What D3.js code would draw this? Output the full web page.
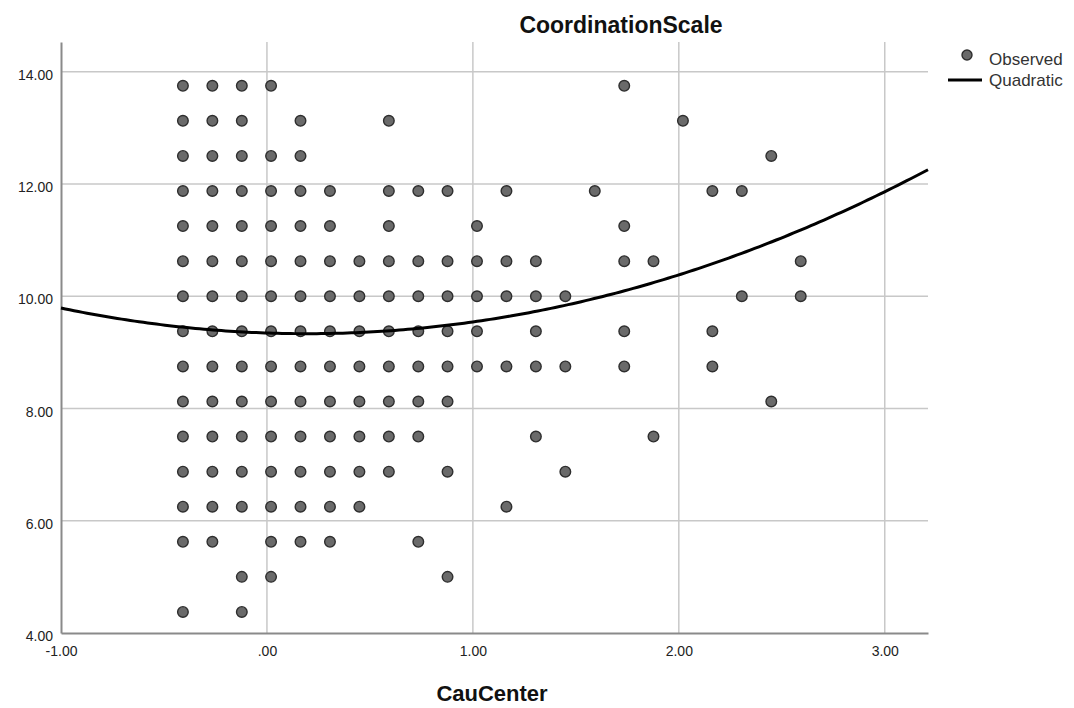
<html>
  <head>
    <script src="https://cdn.jsdelivr.net/npm/d3@7"></script>
    <meta charset="UTF-8">
    <style>
      body { margin: 0; background: #fff; }
      text { font-family: "Liberation Sans", Arial, sans-serif; }
    </style>
  </head>
  <body>
    <svg id="chart" width="1074" height="708"></svg>
    <script>
    // CauCenter values of the columns of points (step 1/7)
    var xLevels = [-0.408, -0.265, -0.122, 0.020, 0.163, 0.306, 0.449, 0.592, 0.735, 0.877,
                   1.020, 1.163, 1.306, 1.449, 1.592, 1.735, 1.877, 2.020, 2.163, 2.306, 2.449, 2.592];
    // CoordinationScale row values
    var yLevels = [13.75, 13.125, 12.5, 11.875, 11.25, 10.625, 10.0, 9.375,
                   8.75, 8.125, 7.5, 6.875, 6.25, 5.625, 5.0, 4.375];
    // for every row, the column indexes that hold a point
    var rowCols = [
      [0, 1, 2, 3, 15],
      [0, 1, 2, 4, 7, 17],
      [0, 1, 2, 3, 4, 20],
      [0, 1, 2, 3, 4, 5, 7, 8, 9, 11, 14, 18, 19],
      [0, 1, 2, 3, 4, 5, 7, 10, 15],
      [0, 1, 2, 3, 4, 5, 6, 7, 8, 9, 10, 11, 12, 15, 16, 21],
      [0, 1, 2, 3, 4, 5, 6, 7, 8, 9, 10, 11, 12, 13, 19, 21],
      [0, 1, 2, 3, 4, 5, 6, 7, 8, 9, 10, 12, 15, 18],
      [0, 1, 2, 3, 4, 5, 6, 7, 8, 9, 10, 11, 12, 13, 15, 18],
      [0, 1, 2, 3, 4, 5, 6, 7, 8, 9, 20],
      [0, 1, 2, 3, 4, 5, 6, 7, 8, 12, 16],
      [0, 1, 2, 3, 4, 5, 6, 7, 9, 13],
      [0, 1, 2, 3, 4, 5, 6, 11],
      [0, 1, 3, 4, 5, 8],
      [2, 3, 9],
      [0, 2]
    ];
    // quadratic fit: y = b0 + b1*x + b2*x^2
    var quadCoef = [9.345, -0.124, 0.321];

    var xTicks = [-1, 0, 1, 2, 3];
    var xTickLabels = ["-1.00", ".00", "1.00", "2.00", "3.00"];
    var yTicks = [4, 6, 8, 10, 12, 14];
    var yTickLabels = ["4.00", "6.00", "8.00", "10.00", "12.00", "14.00"];

    var points = [];
    rowCols.forEach(function(cols, i) {
      cols.forEach(function(c) {
        points.push({x: xLevels[c], y: yLevels[i]});
      });
    });

    var svg = d3.select("#chart");
    var plotL = 61, plotR = 928, plotT = 42, plotB = 633;

    var x = d3.scaleLinear().domain([-1, 3.21]).range([plotL, plotR]);
    var y = d3.scaleLinear().domain([4, 14.53]).range([plotB, plotT]);

    // grid
    svg.append("g").selectAll("line")
      .data(xTicks.filter(function(d) { return d > -1; }))
      .enter().append("line")
      .attr("x1", function(d) { return x(d); }).attr("x2", function(d) { return x(d); })
      .attr("y1", plotT).attr("y2", plotB)
      .attr("stroke", "#c8c8c8").attr("stroke-width", 1.5);

    svg.append("g").selectAll("line")
      .data(yTicks.filter(function(d) { return d > 4; }))
      .enter().append("line")
      .attr("x1", plotL).attr("x2", plotR)
      .attr("y1", function(d) { return y(d); }).attr("y2", function(d) { return y(d); })
      .attr("stroke", "#c8c8c8").attr("stroke-width", 1.5);

    // axes
    var xAxis = d3.axisBottom(x).tickValues(xTicks)
      .tickFormat(function(d, i) { return xTickLabels[i]; }).tickSize(0).tickPadding(13);
    var gx = svg.append("g").attr("transform", "translate(0," + plotB + ")").call(xAxis);
    gx.select(".domain").attr("stroke", "#8a8a8a").attr("stroke-width", 2);
    gx.selectAll("text").attr("font-size", 14).attr("fill", "#222")
      .attr("font-family", "Liberation Sans, Arial, sans-serif");

    var yAxis = d3.axisLeft(y).tickValues(yTicks)
      .tickFormat(function(d, i) { return yTickLabels[i]; }).tickSize(0).tickPadding(8);
    var gy = svg.append("g").attr("transform", "translate(" + plotL + ",0)").call(yAxis);
    gy.select(".domain").attr("stroke", "#8a8a8a").attr("stroke-width", 2);
    gy.selectAll("text").attr("font-size", 14).attr("fill", "#222")
      .attr("font-family", "Liberation Sans, Arial, sans-serif")
      .attr("dy", "0.55em");

    // points
    svg.append("g").selectAll("circle")
      .data(points)
      .enter().append("circle")
      .attr("cx", function(d) { return x(d.x); })
      .attr("cy", function(d) { return y(d.y); })
      .attr("r", 5.3)
      .attr("fill", "#6a6a6a")
      .attr("stroke", "#2e2e2e")
      .attr("stroke-width", 1.4);

    // quadratic curve
    var curveX = d3.range(0, 201).map(function(i) { return -1 + i * (3.21 + 1) / 200; });
    var line = d3.line()
      .x(function(d) { return x(d); })
      .y(function(d) { return y(quadCoef[0] + quadCoef[1] * d + quadCoef[2] * d * d); });
    svg.append("path")
      .datum(curveX)
      .attr("d", line)
      .attr("fill", "none")
      .attr("stroke", "#000")
      .attr("stroke-width", 3);

    // title and axis label
    svg.append("text").attr("x", 621).attr("y", 33)
      .attr("text-anchor", "middle").attr("font-size", 23).attr("font-weight", "bold")
      .attr("fill", "#111").text("CoordinationScale");

    svg.append("text").attr("x", 492).attr("y", 701)
      .attr("text-anchor", "middle").attr("font-size", 22).attr("font-weight", "bold")
      .attr("fill", "#111").text("CauCenter");

    // legend
    var lg = svg.append("g");
    lg.append("circle").attr("cx", 967).attr("cy", 55).attr("r", 5)
      .attr("fill", "#6a6a6a").attr("stroke", "#2e2e2e").attr("stroke-width", 1.4);
    lg.append("text").attr("x", 989).attr("y", 65).attr("font-size", 17)
      .attr("font-family", "Roboto, sans-serif")
      .attr("fill", "#333").text("Observed");
    lg.append("line").attr("x1", 948).attr("x2", 982).attr("y1", 80).attr("y2", 80)
      .attr("stroke", "#000").attr("stroke-width", 3);
    lg.append("text").attr("x", 989).attr("y", 86).attr("font-size", 17)
      .attr("font-family", "Roboto, sans-serif")
      .attr("fill", "#333").text("Quadratic");
    </script>
  </body>
</html>
